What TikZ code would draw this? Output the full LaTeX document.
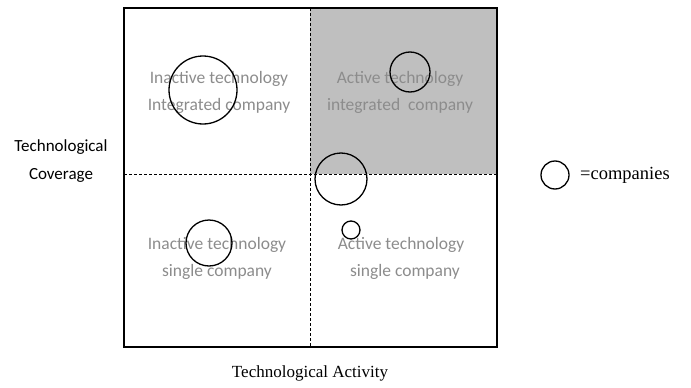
\documentclass[tikz,border=0pt]{standalone}
\usepackage{fontspec}
\setmainfont{Liberation Serif}
\newfontfamily\calfont{Carlito}
\definecolor{clq}{gray}{.75}
\definecolor{clt}{gray}{.55}
\tikzset{
    quad/.style={font=\calfont\fontsize{17.5}{27}\selectfont, text=clt, align=center},
    axis/.style={font=\fontsize{17}{20}\selectfont},
    firm/.style={circle, draw, line width=1.3pt, inner sep=0pt}
}

\begin{document}
\begin{tikzpicture}[x=1pt, y=-1pt]
    \useasboundingbox(0, 0)rectangle(691, 388);
    \fill[clq](310, 8)rectangle(497, 174);
    \draw[densely dashed](310, 8)--(310, 347);
    \draw[densely dashed](124, 174)--(497, 174);
    \draw[line width=1.6pt](124, 8)rectangle(497, 347);
    % quadrant texts
    \node[quad] (iaig) at(219, 92){Inactive technology\\Integrated company};
    \node[quad] (acig) at(400, 92){Active technology\\integrated\ \ company};
    \node[quad] (iasg) at(217, 258){Inactive technology\\single company};
    \node[quad] (acsg) at(401, 258){Active technology\\\ \ single company};
    % companies
    \node[firm, minimum size=68pt] (f1) at(203, 90){};
    \node[firm, minimum size=40pt] (f2) at(410, 72){};
    \node[firm, minimum size=52pt] (f3) at(341, 179){};
    \node[firm, minimum size=46pt] (f4) at(209, 243){};
    \node[firm, minimum size=18pt] (f5) at(351, 230){};
    % axis labels
    \node[axis, font=\calfont\fontsize{17}{28}\selectfont, align=center] (cov) at(61, 161){Technological\\Coverage};
    \node[axis] (act) at(310, 373){Technological Activity};
    % legend
    \node[firm, minimum size=28pt] (key) at(555, 175){};
    \node[axis, font=\fontsize{18.5}{20}\selectfont, anchor=west, inner sep=0pt] (keytext) at(580, 175){=companies};
\end{tikzpicture}
\end{document}
